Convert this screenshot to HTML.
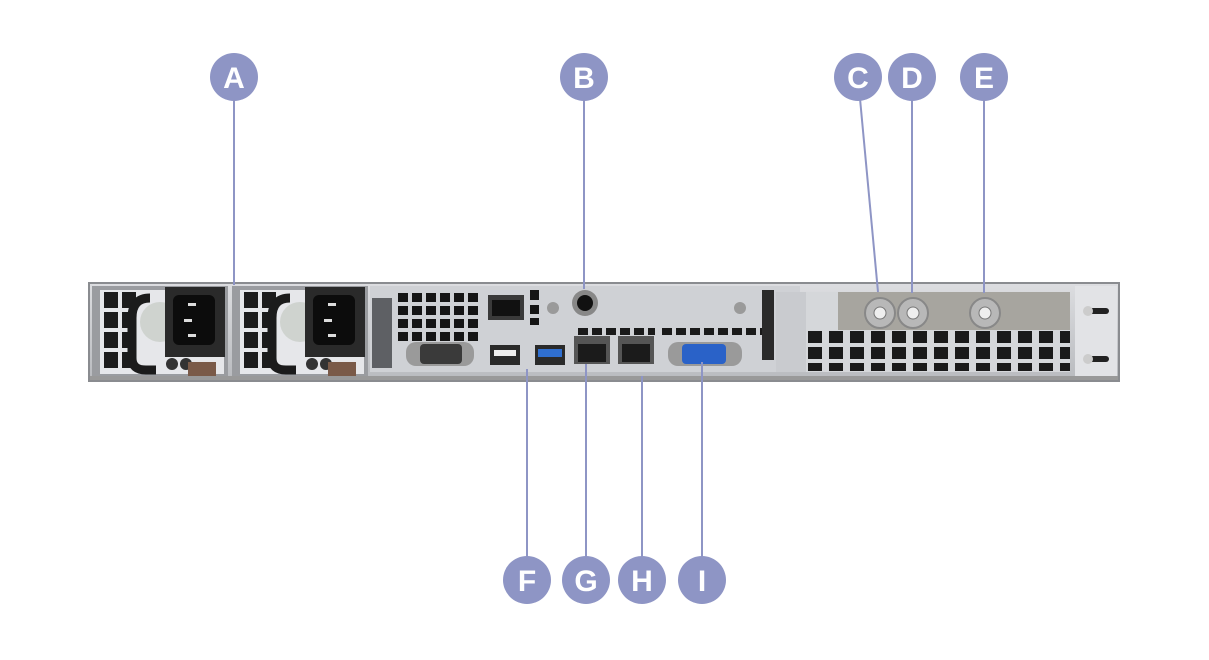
<!DOCTYPE html>
<html><head><meta charset="utf-8"><style>
html,body{margin:0;padding:0;background:#fff;width:1209px;height:660px;overflow:hidden}
svg{display:block}
text{font-family:"Liberation Sans",sans-serif;font-weight:bold;font-size:30px;fill:#fff;text-anchor:middle}
</style></head><body>
<svg width="1209" height="660" viewBox="0 0 1209 660" xmlns="http://www.w3.org/2000/svg">
<defs>
<pattern id="g1" x="398" y="293" width="14" height="13" patternUnits="userSpaceOnUse"><rect width="10" height="9" fill="#151515"/></pattern>
<pattern id="g2" x="808" y="331" width="21" height="16" patternUnits="userSpaceOnUse"><rect width="14" height="12" fill="#1a1a1a"/></pattern>
<pattern id="g3" x="662" y="328" width="14" height="10" patternUnits="userSpaceOnUse"><rect width="10" height="7" fill="#1a1a1a"/></pattern>
<linearGradient id="met" x1="0" y1="0" x2="0" y2="1"><stop offset="0" stop-color="#dcdde0"/><stop offset="1" stop-color="#b9bbbf"/></linearGradient>
</defs>
<!-- chassis -->
<rect x="88" y="282" width="1032" height="100" fill="#8a8c90"/>
<rect x="90" y="284" width="1028" height="96" fill="url(#met)"/>
<!-- PSU 1 -->
<g>
<rect x="92" y="286" width="136" height="92" fill="#9a9ca0"/>
<rect x="100" y="290" width="124" height="84" fill="#e6e7ea"/>
<rect x="104" y="292" width="14" height="16" fill="#1c1c1c"/><rect x="122" y="292" width="14" height="16" fill="#1c1c1c"/>
<rect x="104" y="312" width="14" height="16" fill="#1c1c1c"/><rect x="122" y="312" width="14" height="16" fill="#1c1c1c"/>
<rect x="104" y="332" width="14" height="16" fill="#1c1c1c"/><rect x="122" y="332" width="14" height="16" fill="#1c1c1c"/>
<rect x="104" y="352" width="14" height="16" fill="#1c1c1c"/><rect x="122" y="352" width="14" height="16" fill="#1c1c1c"/>
<circle cx="160" cy="322" r="20" fill="#cfd3cf"/>
<path d="M150 298 q-18 0 -18 20 v40 q0 12 14 12 h10" stroke="#1b1b1b" stroke-width="9" fill="none"/>
<rect x="165" y="287" width="60" height="70" fill="#2a2a2a"/>
<rect x="173" y="295" width="42" height="50" rx="6" fill="#0c0c0c"/>
<rect x="188" y="303" width="8" height="3" fill="#ddd"/><rect x="184" y="319" width="8" height="3" fill="#ddd"/><rect x="188" y="334" width="8" height="3" fill="#ddd"/>
<circle cx="172" cy="364" r="6" fill="#333"/><circle cx="186" cy="364" r="6" fill="#333"/>
<rect x="188" y="362" width="28" height="14" fill="#7a5a48"/>
</g>
<!-- PSU 2 -->
<g transform="translate(140,0)">
<rect x="92" y="286" width="136" height="92" fill="#9a9ca0"/>
<rect x="100" y="290" width="124" height="84" fill="#e6e7ea"/>
<rect x="104" y="292" width="14" height="16" fill="#1c1c1c"/><rect x="122" y="292" width="14" height="16" fill="#1c1c1c"/>
<rect x="104" y="312" width="14" height="16" fill="#1c1c1c"/><rect x="122" y="312" width="14" height="16" fill="#1c1c1c"/>
<rect x="104" y="332" width="14" height="16" fill="#1c1c1c"/><rect x="122" y="332" width="14" height="16" fill="#1c1c1c"/>
<rect x="104" y="352" width="14" height="16" fill="#1c1c1c"/><rect x="122" y="352" width="14" height="16" fill="#1c1c1c"/>
<circle cx="160" cy="322" r="20" fill="#cfd3cf"/>
<path d="M150 298 q-18 0 -18 20 v40 q0 12 14 12 h10" stroke="#1b1b1b" stroke-width="9" fill="none"/>
<rect x="165" y="287" width="60" height="70" fill="#2a2a2a"/>
<rect x="173" y="295" width="42" height="50" rx="6" fill="#0c0c0c"/>
<rect x="188" y="303" width="8" height="3" fill="#ddd"/><rect x="184" y="319" width="8" height="3" fill="#ddd"/><rect x="188" y="334" width="8" height="3" fill="#ddd"/>
<circle cx="172" cy="364" r="6" fill="#333"/><circle cx="186" cy="364" r="6" fill="#333"/>
<rect x="188" y="362" width="28" height="14" fill="#7a5a48"/>
</g>
<!-- IO area -->
<rect x="370" y="286" width="430" height="86" fill="#cfd1d5"/>
<rect x="372" y="298" width="20" height="70" fill="#5e6064"/>
<rect x="398" y="293" width="80" height="48" fill="url(#g1)"/>
<rect x="488" y="295" width="36" height="25" fill="#3a3a3a"/><rect x="492" y="300" width="28" height="16" fill="#111"/>
<rect x="530" y="290" width="9" height="10" fill="#151515"/><rect x="530" y="305" width="9" height="9" fill="#151515"/><rect x="530" y="318" width="9" height="7" fill="#151515"/>
<circle cx="553" cy="308" r="6" fill="#9a9a9a"/>
<circle cx="585" cy="303" r="13" fill="#888"/><circle cx="585" cy="303" r="8" fill="#111"/>
<rect x="662" y="328" width="110" height="10" fill="url(#g3)"/>
<rect x="575" y="328" width="80" height="8" fill="url(#g3)"/>
<rect x="406" y="342" width="68" height="24" rx="10" fill="#9a9a9a"/>
<rect x="420" y="344" width="42" height="20" rx="4" fill="#3a3a3a"/>
<rect x="490" y="345" width="30" height="20" fill="#2a2a2a"/><rect x="494" y="350" width="22" height="6" fill="#eee"/>
<rect x="535" y="345" width="30" height="20" fill="#2a2a2a"/><rect x="538" y="349" width="24" height="8" fill="#2f6fd0"/>
<rect x="574" y="336" width="36" height="28" fill="#555"/><rect x="578" y="344" width="28" height="18" fill="#1b1b1b"/>
<rect x="618" y="336" width="36" height="28" fill="#555"/><rect x="622" y="344" width="28" height="18" fill="#1b1b1b"/>
<rect x="668" y="342" width="74" height="24" rx="10" fill="#9a9a9a"/>
<rect x="682" y="344" width="44" height="20" rx="4" fill="#2a62c8"/>
<circle cx="740" cy="308" r="6" fill="#9a9a9a"/>
<!-- PCI area -->
<rect x="762" y="290" width="12" height="70" fill="#2a2a2a"/>
<rect x="776" y="292" width="30" height="80" fill="#c9cbcf"/>
<rect x="806" y="292" width="264" height="80" fill="#d5d7da"/>
<rect x="838" y="292" width="232" height="38" fill="#a7a59f"/>
<rect x="808" y="331" width="262" height="40" fill="url(#g2)"/>
<circle cx="880" cy="313" r="15" fill="#b8b8b8" stroke="#888" stroke-width="2"/><circle cx="880" cy="313" r="6" fill="#eee" stroke="#777"/>
<circle cx="913" cy="313" r="15" fill="#b8b8b8" stroke="#888" stroke-width="2"/><circle cx="913" cy="313" r="6" fill="#eee" stroke="#777"/>
<circle cx="985" cy="313" r="15" fill="#b8b8b8" stroke="#888" stroke-width="2"/><circle cx="985" cy="313" r="6" fill="#eee" stroke="#777"/>
<rect x="1075" y="286" width="42" height="90" fill="#e2e3e6"/>
<rect x="1085" y="308" width="24" height="6" rx="3" fill="#222"/><circle cx="1088" cy="311" r="5" fill="#ccc"/>
<rect x="1085" y="356" width="24" height="6" rx="3" fill="#222"/><circle cx="1088" cy="359" r="5" fill="#ccc"/>
<rect x="90" y="376" width="1028" height="4" fill="#999"/>
<!-- leader lines -->
<g stroke="#8e95c5" stroke-width="2">
<line x1="234" y1="77" x2="234" y2="285"/>
<line x1="584" y1="77" x2="584" y2="289"/>
<line x1="858" y1="77" x2="878" y2="292"/>
<line x1="912" y1="77" x2="912" y2="293"/>
<line x1="984" y1="77" x2="984" y2="293"/>
<line x1="527" y1="580" x2="527" y2="369"/>
<line x1="586" y1="580" x2="586" y2="364"/>
<line x1="642" y1="580" x2="642" y2="376"/>
<line x1="702" y1="580" x2="702" y2="362"/>
</g>
<g fill="#8e95c5">
<circle cx="234" cy="77" r="24"/><circle cx="584" cy="77" r="24"/><circle cx="858" cy="77" r="24"/><circle cx="912" cy="77" r="24"/><circle cx="984" cy="77" r="24"/>
<circle cx="527" cy="580" r="24"/><circle cx="586" cy="580" r="24"/><circle cx="642" cy="580" r="24"/><circle cx="702" cy="580" r="24"/>
</g>
<text x="234" y="88">A</text><text x="584" y="88">B</text><text x="858" y="88">C</text><text x="912" y="88">D</text><text x="984" y="88">E</text>
<text x="527" y="591">F</text><text x="586" y="591">G</text><text x="642" y="591">H</text><text x="702" y="591">I</text>
</svg>
</body></html>
